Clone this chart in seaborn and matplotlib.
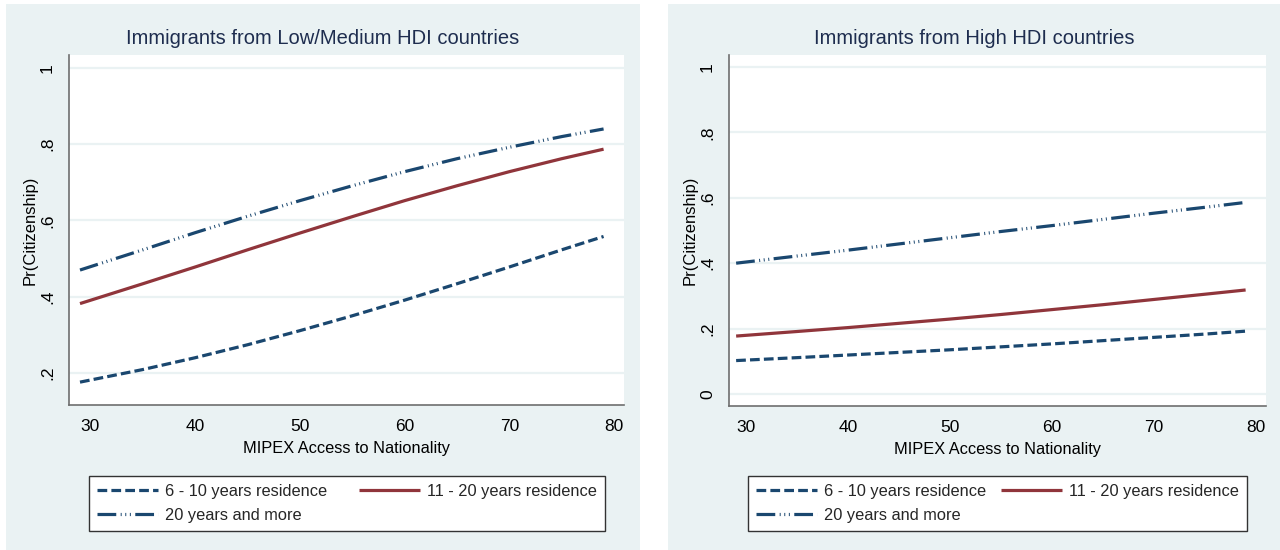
import matplotlib
matplotlib.use("Agg")
import matplotlib.pyplot as plt
import seaborn as sns
import pandas as pd
from matplotlib.patches import Rectangle

# ---- data -------------------------------------------------------------
mipex = [29, 35, 40, 45, 50, 55, 60, 65, 70, 75, 79]

low_6_10 = [0.176, 0.209, 0.240, 0.274, 0.311, 0.350, 0.391, 0.434, 0.478, 0.523, 0.558]
low_11_20 = [0.382, 0.434, 0.478, 0.523, 0.567, 0.610, 0.652, 0.691, 0.728, 0.762, 0.787]
low_20plus = [0.470, 0.523, 0.568, 0.611, 0.652, 0.691, 0.728, 0.762, 0.792, 0.820, 0.840]

high_6_10 = [0.102, 0.111, 0.119, 0.127, 0.135, 0.144, 0.153, 0.163, 0.173, 0.183, 0.192]
high_11_20 = [0.177, 0.191, 0.203, 0.216, 0.229, 0.243, 0.258, 0.273, 0.289, 0.305, 0.318]
high_20plus = [0.400, 0.422, 0.440, 0.459, 0.478, 0.497, 0.515, 0.534, 0.553, 0.571, 0.586]

groups = ["6 - 10 years residence", "11 - 20 years residence", "20 years and more"]
titles = ["Immigrants from Low/Medium HDI countries", "Immigrants from High HDI countries"]
x_ticks = [30, 40, 50, 60, 70, 80]
y_ticks_low = [0.2, 0.4, 0.6, 0.8, 1.0]
y_tick_labels_low = [".2", ".4", ".6", ".8", "1"]
y_ticks_high = [0.0, 0.2, 0.4, 0.6, 0.8, 1.0]
y_tick_labels_high = ["0", ".2", ".4", ".6", ".8", "1"]

# ---- style ------------------------------------------------------------
sns.set_theme(style="white")
plt.rcParams["font.family"] = ["Liberation Sans", "DejaVu Sans"]
plt.rcParams["lines.scale_dashes"] = False

BG = "#EAF2F3"
NAVY = "#1A476F"
MAROON = "#90353B"
AXIS = "#6E6E6E"

palette = {groups[0]: NAVY, groups[1]: MAROON, groups[2]: NAVY}
styles = {
    groups[0]: (0, (7.0, 3.0)),
    groups[1]: "-",
    groups[2]: (0, (13.5, 3.2, 0.7, 2.6, 0.7, 2.6, 0.7, 3.2)),
}


def long_frame(a, b, c):
    rows = []
    for g, vals in zip(groups, (a, b, c)):
        for x, y in zip(mipex, vals):
            rows.append({"mipex": x, "pr": y, "group": g})
    return pd.DataFrame(rows)


W, H = 1280, 550
fig = plt.figure(figsize=(W / 100, H / 100), dpi=100)
fig.patch.set_facecolor("white")

# panel backgrounds (pixels: x0, x1, y0, y1 from top)
panels = [(6, 640, 4, 550), (668, 1280, 4, 550)]
for x0, x1, y0, y1 in panels:
    fig.add_artist(Rectangle((x0 / W, 1 - y1 / H), (x1 - x0) / W, (y1 - y0) / H,
                             transform=fig.transFigure, facecolor=BG,
                             edgecolor="none", zorder=-10))

# plot areas (pixels)
areas = [(69, 624, 55, 405), (729, 1266, 55, 406)]
xlims = [(27.95, 80.95), (28.3, 81.0)]
ylims = [(0.116, 1.034), (-0.037, 1.037)]
frames = [long_frame(low_6_10, low_11_20, low_20plus),
          long_frame(high_6_10, high_11_20, high_20plus)]
yticks = [(y_ticks_low, y_tick_labels_low), (y_ticks_high, y_tick_labels_high)]
legend_boxes = [(89, 605, 467, 531), (748, 1247, 467, 531)]

for i in range(2):
    x0, x1, y0, y1 = areas[i]
    ax = fig.add_axes([x0 / W, 1 - y1 / H, (x1 - x0) / W, (y1 - y0) / H])
    ax.set_facecolor("white")
    df = frames[i]
    for g in groups:
        sub = df[df["group"] == g]
        sns.lineplot(data=sub, x="mipex", y="pr", ax=ax, color=palette[g],
                     linestyle=styles[g], linewidth=2.3, label=g, legend=False,
                     solid_capstyle="butt", dash_capstyle="butt")
    ax.set_xlim(*xlims[i])
    ax.set_ylim(*ylims[i])
    ax.set_xticks(x_ticks)
    ax.set_yticks(yticks[i][0])
    ax.set_yticklabels(yticks[i][1], rotation=90, va="center")
    ax.tick_params(axis="both", direction="out", length=5, width=1, color=AXIS,
                   labelsize=12.5, labelcolor="black", pad=5)
    ax.grid(axis="y", color=BG, linewidth=1.6)
    ax.grid(axis="x", visible=False)
    ax.set_axisbelow(True)
    for s in ("top", "right"):
        ax.spines[s].set_visible(False)
    for s in ("left", "bottom"):
        ax.spines[s].set_color(AXIS)
        ax.spines[s].set_linewidth(1.2)
    ax.set_xlabel("MIPEX Access to Nationality", fontsize=11.8, color="black", labelpad=5)
    ax.set_ylabel("Pr(Citizenship)", fontsize=12, color="black", labelpad=1.5)

    px0, px1 = panels[i][0], panels[i][1]
    fig.text((px0 + px1) / 2 / W, 1 - 38 / H, titles[i], ha="center", va="center",
             fontsize=14.5, color="#1E2D4F")

    handles, labels = ax.get_legend_handles_labels()
    order = [0, 2, 1]
    lx0, lx1, ly0, ly1 = legend_boxes[i]
    leg = ax.legend([handles[k] for k in order], [labels[k] for k in order],
                    ncol=2, mode="expand", loc="lower left",
                    bbox_to_anchor=(lx0 / W, 1 - ly1 / H, (lx1 - lx0) / W, (ly1 - ly0) / H),
                    bbox_transform=fig.transFigure, fontsize=11.8, frameon=True,
                    fancybox=False, edgecolor="#333333", facecolor="white",
                    framealpha=1, handlelength=3.7, handletextpad=0.45,
                    borderpad=0.5, labelspacing=0.55, borderaxespad=0)
    leg.get_frame().set_linewidth(1.0)

fig.savefig("out.png", dpi=100, facecolor=fig.get_facecolor())
